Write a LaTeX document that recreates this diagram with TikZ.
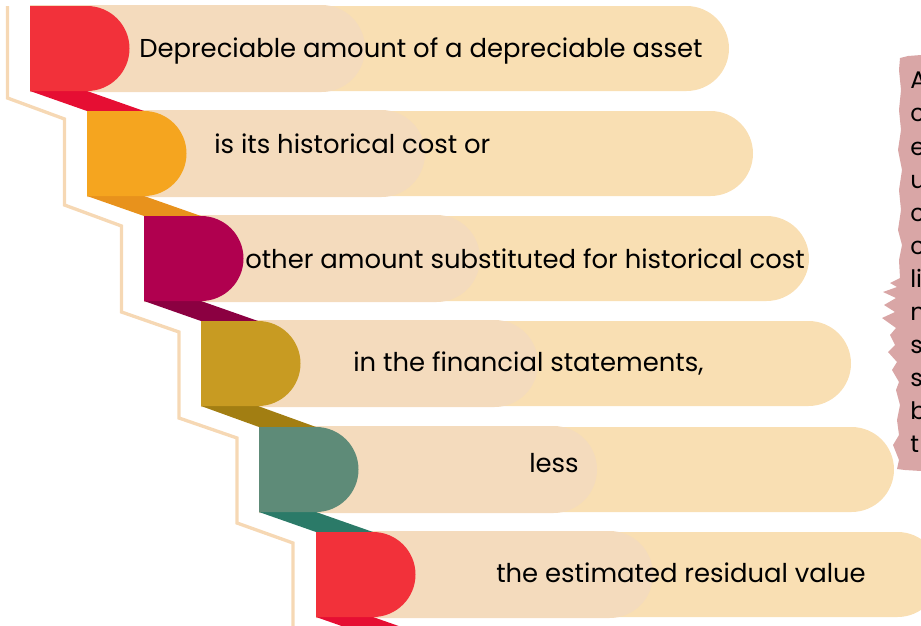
\documentclass[tikz,border=0pt]{standalone}
\usepackage{fontspec}
\setmainfont{Poppins}

\definecolor{bandlight}{HTML}{F9DFB3}
\definecolor{bandshade}{HTML}{F4DBBD}
\definecolor{stairline}{HTML}{F6D8B4}
\definecolor{notepink}{HTML}{D9A6A6}
\definecolor{blockred}{HTML}{F2313A}
\definecolor{stripred}{HTML}{E60E33}
\definecolor{blockorange}{HTML}{F5A51F}
\definecolor{striporange}{HTML}{E8921C}
\definecolor{blockmaroon}{HTML}{B0004F}
\definecolor{stripmaroon}{HTML}{8B0041}
\definecolor{blockgold}{HTML}{C89B22}
\definecolor{stripgold}{HTML}{A27E12}
\definecolor{blockteal}{HTML}{5E8B78}
\definecolor{stripteal}{HTML}{2B7A68}

\tikzset{
  band/.style={fill=bandlight},
  shade/.style={fill=bandshade},
  stair/.style={draw=stairline, line width=2.5pt},
  rowtext/.style={anchor=base west, inner sep=0pt, text=black, font=\fontsize{19.4}{23}\selectfont},
  notetext/.style={anchor=north west, inner sep=0pt, align=left, text=black, font=\fontsize{18}{24.8}\selectfont},
}

\begin{document}
\begin{tikzpicture}[x=0.75pt,y=0.75pt,yscale=-1,xscale=1]
\useasboundingbox (0,0) rectangle (921,625);
\clip (0,0) rectangle (921,625);

%Stair outline
\draw [stair] (7.5,6) -- (7.5,98) -- (64.5,119) -- (64.5,205) -- (121.5,226) -- (121.5,312) -- (179,332) -- (179,418) -- (237,438) -- (237,523) -- (293,543) -- (293,630) ;

%Bands
\fill [band] (30,6) -- (686.5,6) arc [start angle=-90, end angle=90, radius=42.5] -- (30,91) -- cycle ;
\fill [band] (87,111) -- (710.5,111) arc [start angle=-90, end angle=90, radius=42.5] -- (87,196) -- cycle ;
\fill [band] (144,216) -- (766.5,216) arc [start angle=-90, end angle=90, radius=42.5] -- (144,301) -- cycle ;
\fill [band] (201,321) -- (808.5,321) arc [start angle=-90, end angle=90, radius=42.5] -- (201,406) -- cycle ;
\fill [band] (259,427) -- (851.5,427) arc [start angle=-90, end angle=90, radius=42.5] -- (259,512) -- cycle ;
\fill [band] (316,532) -- (897.5,532) arc [start angle=-90, end angle=90, radius=42.5] -- (316,617) -- cycle ;

%Shaded part of the bands
\fill [shade] (30,5) -- (321.5,5) arc [start angle=-90, end angle=90, radius=43.5] -- (30,92) -- cycle ;
\fill [shade] (87,110) -- (381.5,110) arc [start angle=-90, end angle=90, radius=43.5] -- (87,197) -- cycle ;
\fill [shade] (144,215) -- (436.5,215) arc [start angle=-90, end angle=90, radius=43.5] -- (144,302) -- cycle ;
\fill [shade] (201,320) -- (494.5,320) arc [start angle=-90, end angle=90, radius=43.5] -- (201,407) -- cycle ;
\fill [shade] (259,426) -- (553.5,426) arc [start angle=-90, end angle=90, radius=43.5] -- (259,513) -- cycle ;
\fill [shade] (316,531) -- (609.5,531) arc [start angle=-90, end angle=90, radius=43.5] -- (316,618) -- cycle ;

%Strips
\fill [stripred] (30,91) -- (87,91) -- (144,111) -- (87,111) -- cycle ;
\fill [striporange] (87,196) -- (144,196) -- (201,216) -- (144,216) -- cycle ;
\fill [stripmaroon] (144,301) -- (201,301) -- (258,321) -- (201,321) -- cycle ;
\fill [stripgold] (201,406) -- (258,406) -- (316,427) -- (259,427) -- cycle ;
\fill [stripteal] (259,512) -- (316,512) -- (373,532) -- (316,532) -- cycle ;
\fill [stripred] (316,617) -- (373,617) -- (430,637) -- (373,637) -- cycle ;

%Blocks
\fill [blockred] (30,6) -- (87,6) arc [start angle=-90, end angle=90, radius=42.5] -- (30,91) -- cycle ;
\fill [blockorange] (87,111) -- (144,111) arc [start angle=-90, end angle=90, radius=42.5] -- (87,196) -- cycle ;
\fill [blockmaroon] (144,216) -- (201,216) arc [start angle=-90, end angle=90, radius=42.5] -- (144,301) -- cycle ;
\fill [blockgold] (201,321) -- (258,321) arc [start angle=-90, end angle=90, radius=42.5] -- (201,406) -- cycle ;
\fill [blockteal] (259,427) -- (316,427) arc [start angle=-90, end angle=90, radius=42.5] -- (259,512) -- cycle ;
\fill [blockred] (316,532) -- (373,532) arc [start angle=-90, end angle=90, radius=42.5] -- (316,617) -- cycle ;

% Text Node
\node [rowtext] (amount) at (139,57) {Depreciable amount of a depreciable asset};
% Text Node
\node [rowtext] (cost) at (214,153) {is its historical cost or};
% Text Node
\node [rowtext] (other) at (245,268) {other amount substituted for historical cost};
% Text Node
\node [rowtext] (statements) at (353,371) {in the financial statements,};
% Text Node
\node [rowtext] (less) at (529,472) {less};
% Text Node
\node [rowtext] (residual) at (496,582) {the estimated residual value};

%Torn note on the right
\fill [notepink] (900,58) -- (908,56) -- (921,55) -- (930,55) -- (930,472) -- (921,471) -- (905,470) -- (897,469) -- (899,460) -- (893,445) -- (899,435) -- (897,420) -- (900,405) -- (896,390) -- (899,382) -- (892,370) -- (897,362) -- (888,352) -- (895,345) -- (890,335) -- (896,328) -- (882,318) -- (895,312) -- (884,305) -- (896,298) -- (883,292) -- (897,287) -- (890,283) -- (900,278) -- (899,260) -- (902,245) -- (898,230) -- (901,210) -- (899,190) -- (902,170) -- (898,150) -- (901,130) -- (899,110) -- (901,90) -- (899,70) -- cycle ;
% Text Node
\node [notetext] (note) at (910,72) {A\\c\\e\\u\\c\\c\\li\\n\\s\\s\\b\\t};
\end{tikzpicture}
\end{document}
